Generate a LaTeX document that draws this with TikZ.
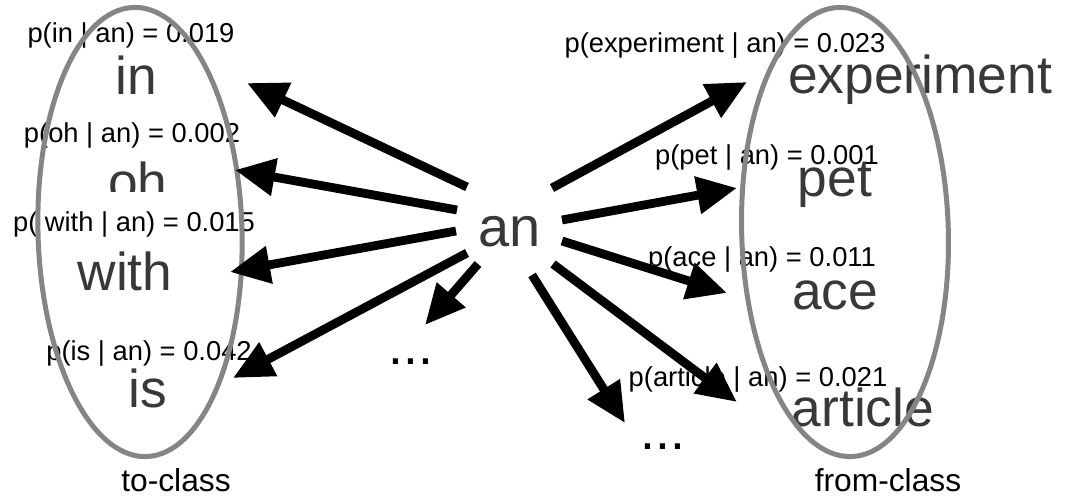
\documentclass[tikz,border=0pt]{standalone}
\usepackage{fontspec}
\setmainfont{Liberation Sans}
\usetikzlibrary{arrows.meta,shapes.geometric}
\definecolor{ringgray}{gray}{0.52}
\definecolor{wordgray}{gray}{0.22}
\begin{document}
\begin{tikzpicture}[x=0.75pt,y=-0.75pt,
  word/.style={font=\fontsize{40}{40}\selectfont, text=wordgray, inner sep=0pt, anchor=base},
  center/.style={font=\fontsize{42}{42}\selectfont, text=wordgray, inner sep=0pt, anchor=base},
  prob/.style={font=\fontsize{20.5}{20.5}\selectfont, inner sep=0pt, anchor=base},
  classname/.style={font=\fontsize{23.8}{23.8}\selectfont, inner sep=0pt, anchor=base},
  dots/.style={font=\fontsize{40}{40}\selectfont, inner sep=0pt, anchor=base},
  ring/.style={draw=ringgray, line width=3.75pt, ellipse, inner sep=0pt, minimum height=337pt},
  link/.style={line width=6.6pt, -{Triangle[length=30pt,width=27pt]}}
]
\useasboundingbox (0,0) rectangle (1075,499);

% left class words
\node[word] (win) at (136,95) {in};
\node[word] (woh) at (138,200) {oh};
\node[word] (wwith) at (125,290) {with};
\node[word] (wis) at (148,407) {is};
% right class words
\node[word] (wexp) at (920,94) {experiment};
\node[word] (wpet) at (835,197) {pet};
\node[word] (wace) at (835,309) {ace};
\node[word] (wart) at (863,426) {article};

% probabilities
\node[prob] (pin) at (131,43) {p(in | an) = 0.019};
\node[prob] (poh) at (132,143) {p(oh | an) = 0.002};
\node[prob, fill=white, text height=30pt] (pwith) at (134,232) {p( with | an) = 0.015};
\node[prob] (pis) at (149,360) {p(is | an) = 0.042};
\node[prob] (pexp) at (725,53) {p(experiment | an) = 0.023};
\node[prob] (ppet) at (767,165) {p(pet | an) = 0.001};
\node[prob] (pace) at (762,267) {p(ace | an) = 0.011};
\node[prob] (part) at (758,386) {p(article | an) = 0.021};

% centre word and ellipses
\node[center] (an) at (510,247) {an};
\node[dots] (ldots) at (411,364) {...};
\node[dots] (rdots) at (663,449) {...};

\node[ring, minimum width=153pt, rotate=1.6] (toring) at (140,232) {};
\node[ring, minimum width=155pt, rotate=1.6] (fromring) at (845,232) {};

\node[classname] (tocls) at (176,491) {to-class};
\node[classname] (fromcls) at (888,491) {from-class};

% arrow end points
\coordinate (s1) at (467,187);  \coordinate (t1) at (247,83);
\coordinate (s2) at (457,210);  \coordinate (t2) at (235,170);
\coordinate (s3) at (456,231);  \coordinate (t3) at (230,272);
\coordinate (s4) at (467,253);  \coordinate (t4) at (233,378);
\coordinate (s5) at (478,264);  \coordinate (t5) at (425,325);
\coordinate (s6) at (552,188);  \coordinate (t6) at (747,82);
\coordinate (s7) at (562,220);  \coordinate (t7) at (737,188);
\coordinate (s8) at (562,241);  \coordinate (t8) at (727,293);
\coordinate (s9) at (553,264);  \coordinate (t9) at (737,402);
\coordinate (s10) at (532,275); \coordinate (t10) at (625,423);

\foreach \i in {1,...,10} { \draw[link] (s\i) -- (t\i); }
\end{tikzpicture}
\end{document}
